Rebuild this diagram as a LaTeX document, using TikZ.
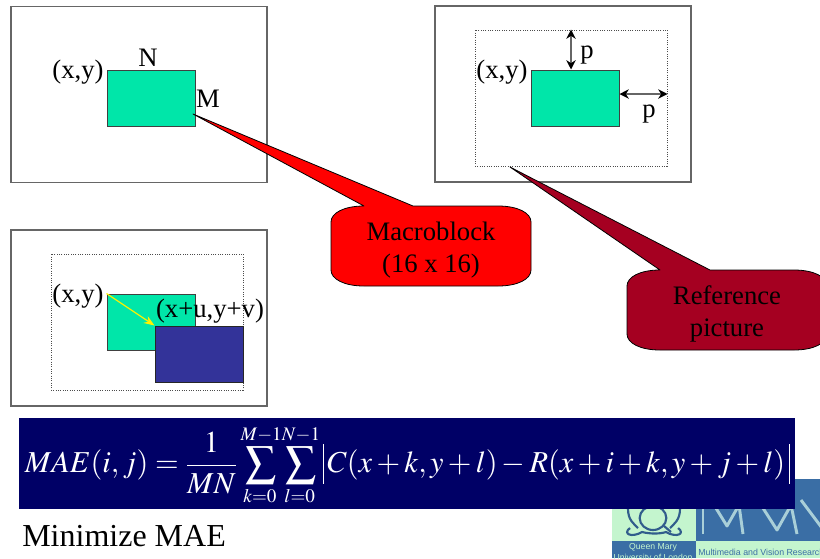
\documentclass[tikz,border=0pt]{standalone}
\usepackage{amsmath}
\usepackage{mathptmx}
\usepackage{fontspec}
\setmainfont{Liberation Serif}
\newfontfamily\logofont{Liberation Sans}
\usepackage{tikz}
\usetikzlibrary{positioning,arrows.meta,calc}
\definecolor{blockgreen}{HTML}{00E6A9}
\definecolor{blockblue}{HTML}{333399}
\definecolor{calloutred}{HTML}{FF0000}
\definecolor{calloutdark}{HTML}{A50021}
\definecolor{formulanavy}{HTML}{000066}
\definecolor{logoblue}{HTML}{3A6EA5}
\definecolor{logolight}{HTML}{C4F5CE}
\definecolor{logoletter}{HTML}{A9CFD8}
\newcommand{\limtext}[1]{\scalebox{.85}{$\scriptstyle #1$}}
\newcommand{\tallbar}{\rule[-8.25pt]{.5pt}{30pt}}
\tikzset{
	framebox/.style={draw=black!60,line width=.85pt,minimum width=192pt,minimum height=132pt,inner sep=0pt},
	searchbox/.style={draw=black!70,densely dotted,line width=.75pt,minimum width=144pt,minimum height=102pt,inner sep=0pt},
	greenblock/.style={draw=black!75,fill=blockgreen,line width=.75pt,minimum width=66pt,minimum height=42pt,inner sep=0pt},
	blueblock/.style={draw=black!85,fill=blockblue,line width=.75pt,minimum width=66pt,minimum height=42pt,inner sep=0pt},
	slidetext/.style={font=\fontsize{20}{24}\selectfont,inner sep=0pt,text=black},
	callouttext/.style={font=\fontsize{20}{24}\selectfont,align=center,inner sep=0pt,text=black},
	pointer/.style={draw=black,line width=.6pt,line join=round},
	doublearrow/.style={{Stealth[length=7pt,width=7pt,black]}-{Stealth[length=7pt,width=7pt,black]},draw=black!60,line width=1pt},
	logoline/.style={line width=1.6pt,line join=round,draw=logoblue!85!black},
	logoletterline/.style={line width=2.2pt,line join=round,draw=logoletter},
}
\begin{document}
\begin{tikzpicture}[x=.75pt,y=-.75pt]
	
	\useasboundingbox (0,0) rectangle (820,558);
	\clip (0,0) rectangle (820,558);
	
	% frames
	\node[framebox] (frameA) at (139,94.5) {};
	\node[framebox] (frameB) at (563,94) {};
	\node[framebox] (frameC) at (139,318) {};
	\node[searchbox] (searchB) at (571,98) {};
	\node[searchbox] (searchC) at (147,322) {};
	
	% blocks
	\node[greenblock] (blockA) at (151,98) {};
	\node[greenblock] (blockB) at (575,98) {};
	\node[greenblock] (blockC) at (151,322) {};
	\node[blueblock] (blockD) at (199,354) {};
	
	% labels
	\node[slidetext] (xyA) at (78,72) {(x,y)};
	\node[slidetext] (nA) at (148,58) {N};
	\node[slidetext] (mA) at (208,99) {M};
	\node[slidetext] (xyB) at (502,72) {(x,y)};
	\node[slidetext] (pTop) at (587,55) {p};
	\node[slidetext] (pSide) at (649,114) {p};
	\node[slidetext] (xyC) at (78,296) {(x,y)};
	\node[slidetext] (xyD) at (210,311) {(x+u,y+v)};
	
	% arrows
	\coordinate (topEnd) at (blockB.north -| searchB.north);
	\coordinate (sideStart) at ($(blockB.east)+(0,-4)$);
	\coordinate (sideEnd) at (searchB.east |- sideStart);
	\draw[doublearrow] (searchB.north) -- (topEnd);
	\draw[doublearrow] (sideStart) -- (sideEnd);
	\draw[-{Stealth[length=8pt,width=6pt]},yellow,line width=.9pt] (blockC.north west) -- (blockD.north west);
	
	% callouts
	\coordinate (tipA) at (193,114);
	\coordinate (tipB) at (510,167);
	\draw[pointer,fill=calloutred] (tipA) -- (413,206) -- (498,206)
		.. controls (518,206) and (531,213) .. (531,222) -- (531,270)
		.. controls (531,279) and (518,286) .. (498,286) -- (364,286)
		.. controls (344,286) and (331,279) .. (331,270) -- (331,222)
		.. controls (331,213) and (344,206) .. (364,206) -- cycle;
	\draw[pointer,fill=calloutdark] (tipB) -- (710,270) -- (794,270)
		.. controls (814,270) and (827,277) .. (827,286) -- (827,334)
		.. controls (827,343) and (814,350) .. (794,350) -- (660,350)
		.. controls (640,350) and (627,343) .. (627,334) -- (627,286)
		.. controls (627,277) and (640,270) .. (660,270) -- cycle;
	\node[callouttext] (macroLabel) at (431,250) {Macroblock\\(16 x 16)};
	\node[callouttext] (refLabel) at (727,314) {Reference\\picture};
	
	% logo
	\fill[logolight] (612,479) rectangle (696,541);
	\fill[logoblue] (696,479) rectangle (820,541);
	\fill[logoblue] (612,541) rectangle (696,558);
	\fill[logolight] (696,541) rectangle (820,558);
	\draw[logoline] (653,518) circle[x radius=10pt,y radius=9pt];
	\draw[logoline] (664,526) -- (671,532);
	\draw[logoline] (628,509) .. controls (628,520) and (634,524) .. (638,528);
	\draw[logoline] (680,509) .. controls (680,520) and (674,524) .. (670,528);
	\draw[logoline] (630,528) .. controls (622,534) and (632,538) .. (642,532) .. controls (650,534) and (660,534) .. (666,532) .. controls (676,538) and (686,534) .. (678,528);
	\draw[logoletterline] (703,534) -- (703,505);
	\draw[logoletterline] (714,505) -- (727,526) -- (739,505) -- (743,534);
	\draw[logoletterline] (761,505) -- (777,530) -- (791,505) -- (797,534);
	\draw[logoletterline] (801,500) -- (822,528);
	\node[font=\logofont\fontsize{6.5}{8.5}\selectfont,text=logolight,align=center,inner sep=0pt] (logoQM) at (653,553) {Queen Mary\\University of London};
	\node[font=\logofont\fontsize{6.6}{8}\selectfont,text=logoblue,anchor=west,inner sep=0pt] (logoMV) at (698,552) {Multimedia and Vision Research};
	
	% formula
	\node[fill=formulanavy,draw=none,minimum width=582pt,minimum height=68.25pt,inner sep=0pt] (formulaBox) at (407,463.5) {};
	\node[text=white,inner sep=0pt] (formula) at (407,465) {\fontsize{22.8}{27}\selectfont
		$\displaystyle MAE(i,j)=\frac{1}{MN}\sum_{\limtext{k=0}}^{\limtext{M-1}}\!\sum_{\limtext{l=0}}^{\limtext{N-1}}\tallbar\,C(x+k,y+l)-R(x+i+k,y+j+l)\,\tallbar$};
	
	\node[font=\fontsize{24}{28}\selectfont,anchor=west,inner sep=0pt,text=black] (minLabel) at (22,536) {Minimize MAE};
	
\end{tikzpicture}
\end{document}
